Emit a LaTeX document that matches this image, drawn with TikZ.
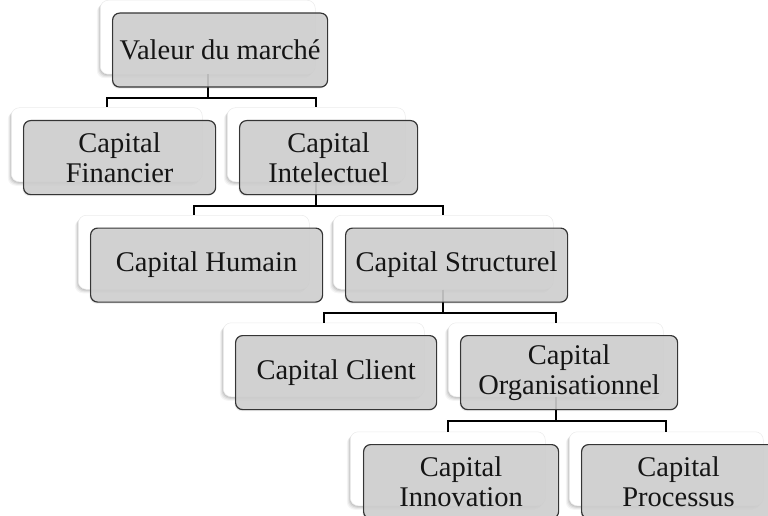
\documentclass[tikz,border=0pt]{standalone}
\usepackage{fontspec}
\setmainfont{Liberation Serif}
\usetikzlibrary{shadows}
\definecolor{boxgray}{HTML}{CFCFCF}
\definecolor{boxedge}{HTML}{353535}
\definecolor{txt}{HTML}{151515}
\definecolor{backedge}{HTML}{EBEBEB}
\begin{document}
\begin{tikzpicture}[x=1pt,y=-1pt,
  backbox/.style={draw=backedge, line width=0.5pt, fill=white, rounded corners=8pt,
    minimum height=74pt, inner sep=0pt, anchor=north west,
    general shadow={shadow xshift=-3.5pt, shadow yshift=-4pt, fill=black, opacity=0.04},
    general shadow={shadow xshift=-2.5pt, shadow yshift=-3pt, fill=black, opacity=0.06},
    general shadow={shadow xshift=-1.5pt, shadow yshift=-2pt, fill=black, opacity=0.08},
    general shadow={shadow xshift=-0.7pt, shadow yshift=-1pt, fill=black, opacity=0.08}},
  grbox/.style={draw=boxedge, line width=1.2pt, fill=boxgray, fill opacity=0.9, text opacity=1,
    rounded corners=7pt, minimum height=74pt, inner sep=2pt, anchor=north west,
    align=center, text=txt, font=\fontsize{28.5}{30}\selectfont,
    general shadow={shadow xshift=-1pt, shadow yshift=-1.5pt, fill=black, opacity=0.08}},
  conn/.style={draw=black, line width=2pt}]
\useasboundingbox (0,0) rectangle (768,516);

% back (white) boxes
\node[backbox, minimum width=215pt] (wV)  at (100,0) {};
\node[backbox, minimum width=191pt] (wF)  at (11,107.5) {};
\node[backbox, minimum width=178pt] (wI)  at (227,107.5) {};
\node[backbox, minimum width=231pt] (wH)  at (78,215) {};
\node[backbox, minimum width=220pt] (wS)  at (333,215) {};
\node[backbox, minimum width=201pt] (wC)  at (223,322.5) {};
\node[backbox, minimum width=215pt] (wO)  at (448,322.5) {};
\node[backbox, minimum width=195pt] (wN)  at (350,431.5) {};
\node[backbox, minimum width=194pt] (wP)  at (569,431.5) {};

% connectors
\draw[conn] (wV.south) -- ++(0,23.5) -| (wF.north);
\draw[conn] (wV.south) -- ++(0,23.5) -| (wI.north);
\draw[conn] (wI.south) -- ++(0,23.5) -| (wH.north);
\draw[conn] (wI.south) -- ++(0,23.5) -| (wS.north);
\draw[conn] (wS.south) -- ++(0,23.5) -| (wC.north);
\draw[conn] (wS.south) -- ++(0,23.5) -| (wO.north);
\draw[conn] (wO.south) -- ++(0,23.5) -| (wN.north);
\draw[conn] (wO.south) -- ++(0,23.5) -| (wP.north);

% front (gray) boxes
\node[grbox, minimum width=215pt] (V) at (112,12.5) {Valeur du marché};
\node[grbox, minimum width=192pt] (F) at (23,120) {Capital\\Financier};
\node[grbox, minimum width=178pt] (I) at (239,120) {Capital\\Intelectuel};
\node[grbox, minimum width=232pt] (H) at (90,227.5) {Capital Humain};
\node[grbox, minimum width=222pt] (S) at (345,227.5) {Capital Structurel};
\node[grbox, minimum width=201pt] (C) at (235,335) {Capital Client};
\node[grbox, minimum width=217pt] (O) at (460,335) {Capital\\Organisationnel};
\node[grbox, minimum width=195pt] (N) at (363,444) {Capital\\Innovation};
\node[grbox, minimum width=194pt] (P) at (581,444) {Capital\\Processus};
\end{tikzpicture}
\end{document}
